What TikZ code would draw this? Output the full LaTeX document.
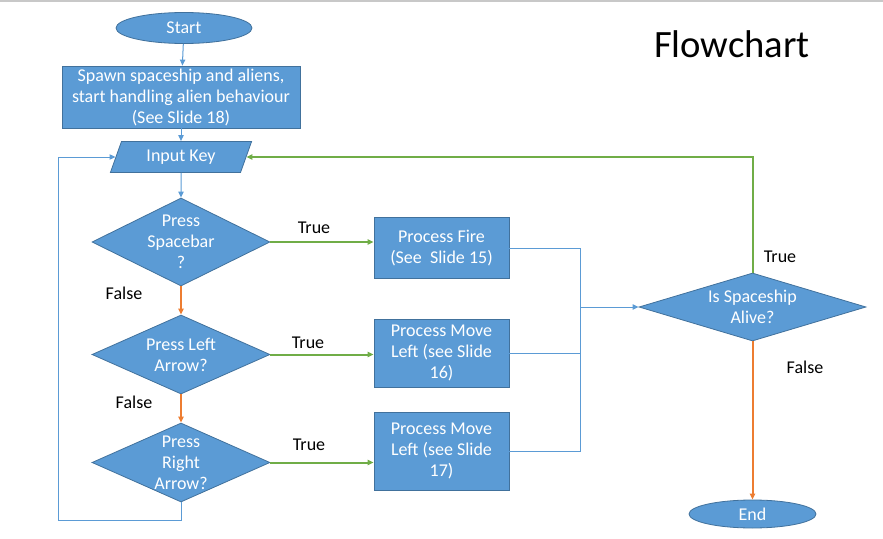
\documentclass[tikz,border=0pt]{standalone}
\usepackage{fontspec}
\setmainfont{Carlito}
\usepackage{tikz}
\usetikzlibrary{shapes.geometric,arrows.meta}

\definecolor{boxblue}{RGB}{91,155,213}
\definecolor{edgeblue}{RGB}{65,113,156}
\definecolor{truegreen}{RGB}{112,173,71}
\definecolor{falseorange}{RGB}{237,125,49}

\begin{document}
\begin{tikzpicture}[x=0.75pt,y=0.75pt,yscale=-1,xscale=1,
  every node/.style={font=\fontsize{13.5}{15.75}\selectfont},
  >={Triangle[length=4.5pt,width=4pt]},
  shapebox/.style={draw=edgeblue,fill=boxblue,text=white,line width=0.6pt,inner sep=0pt,align=center},
  terminal/.style={shapebox,ellipse},
  process/.style={shapebox,rectangle},
  inout/.style={shapebox,trapezium,trapezium left angle=66,trapezium right angle=114,trapezium stretches=true},
  decision/.style={shapebox,diamond},
  intext/.style={text=white,align=center,inner sep=0pt},
  lbl/.style={inner sep=0pt,text=black},
  thinline/.style={draw=boxblue,line width=0.75pt},
  yesline/.style={draw=truegreen,line width=1.5pt},
  noline/.style={draw=falseorange,line width=1.5pt}
]
\useasboundingbox (0,0) rectangle (883,539);

%Straight Lines (top rule)
\draw [color={rgb, 255:red, 200; green, 200; blue, 200 }, line width=1.1pt] (0,1) -- (883,1) ;

% Text Node
\node [inner sep=0pt, font=\fontsize{29}{34}\selectfont] (title) at (732,44) {Flowchart};

%Shape: Ellipse
\node [terminal, minimum width=102pt, minimum height=23.25pt] (start) at (184,28) {Start};
%Shape: Rectangle
\node [process, minimum width=178.5pt, minimum height=46.5pt] (spawn) at (181,97) {Spawn spaceship and aliens,\\start handling alien behaviour\\(See Slide 18)};
%Shape: Parallelogram
\node [inout, minimum width=106.5pt, minimum height=23.25pt] (key) at (181,157) {Input Key};

%Shape: Diamond
\node [decision, minimum width=133.5pt, minimum height=66pt, label={[intext]center:{Press\\Spacebar\\?}}] (space) at (181,242) {};
%Shape: Diamond
\node [decision, minimum width=133.5pt, minimum height=59.25pt, label={[intext]center:{Press Left\\Arrow?}}] (left) at (181,354.5) {};
%Shape: Diamond
\node [decision, minimum width=133.5pt, minimum height=59.25pt, label={[intext]center:{Press\\Right\\Arrow?}}] (right) at (181,462.5) {};

%Shape: Rectangle
\node [process, minimum width=101.25pt, minimum height=45.75pt] (fire) at (441.5,248) {Process Fire\\(See~~Slide 15)};
%Shape: Rectangle
\node [process, minimum width=101.25pt, minimum height=51pt] (moveleft) at (441.5,353) {Process Move\\Left (see Slide\\16)};
%Shape: Rectangle
\node [process, minimum width=101.25pt, minimum height=58.5pt] (moveright) at (441.5,451) {Process Move\\Left (see Slide\\17)};

%Shape: Diamond
\node [decision, minimum width=170.25pt, minimum height=51pt, label={[intext]center:{Is Spaceship\\Alive?}}] (alive) at (752.5,307) {};
%Shape: Ellipse
\node [terminal, minimum width=95.25pt, minimum height=21pt] (end) at (752.5,514) {End};

% Text Node
\node [lbl] (t1) at (314,228) {True};
\node [lbl] (t2) at (308,343) {True};
\node [lbl] (t3) at (309,445) {True};
\node [lbl] (t4) at (780,257) {True};
\node [lbl] (f1) at (124,293) {False};
\node [lbl] (f2) at (134,402) {False};
\node [lbl] (f4) at (805,367) {False};

\coordinate (merge) at (580,307);
\coordinate (loopcorner) at (58,520);

% Connection
\draw [thinline,->] (start) -- (spawn) ;
\draw [thinline,->] (spawn) -- (key) ;
\draw [thinline,->] (key) -- (space) ;
\draw [noline,->] (space) -- (left) ;
\draw [noline,->] (left) -- (right) ;
\draw [yesline,->] (space.east) -- (space.east -| fire.west) ;
\draw [yesline,->] (left.east) -- (left.east -| moveleft.west) ;
\draw [yesline,->] (right.east) -- (right.east -| moveright.west) ;
\draw [thinline] (fire.east) -| (merge) ;
\draw [thinline] (moveleft.east) -| (merge) ;
\draw [thinline] (moveright.east) -| (merge) ;
\draw [thinline,->] (merge) -- (alive) ;
\draw [thinline,->] (right.south) |- (loopcorner) |- (key.west) ;
\draw [yesline,->] (alive.north) |- (key.east) ;
\draw [noline,->] (alive) -- (end) ;

\end{tikzpicture}
\end{document}
